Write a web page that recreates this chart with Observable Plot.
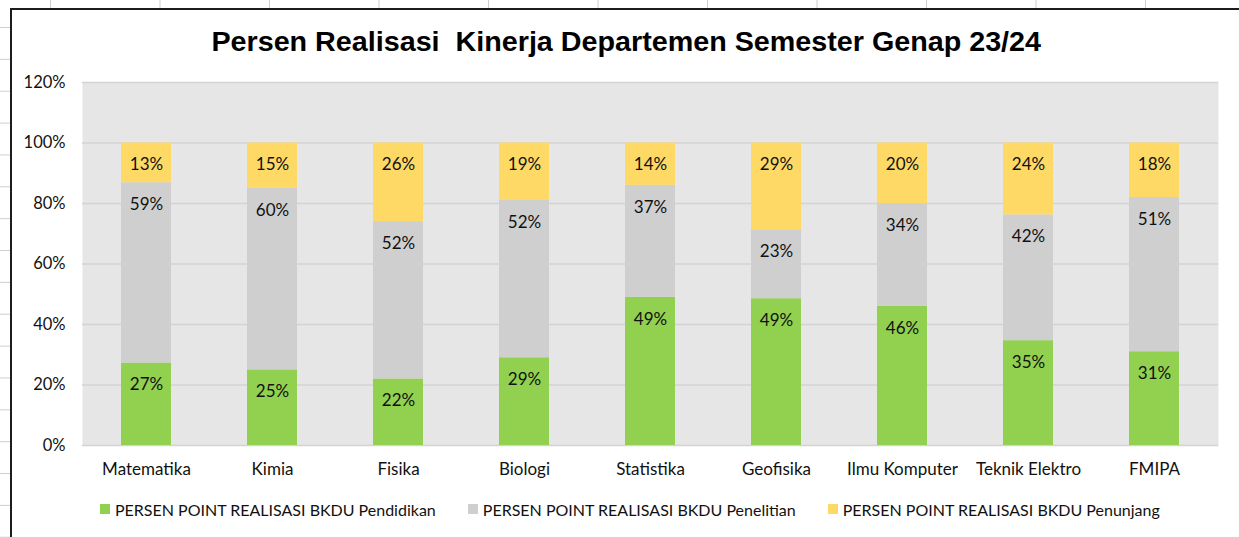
<!DOCTYPE html>
<html>
<head>
<meta charset="utf-8">
<script src="https://cdn.jsdelivr.net/npm/d3@7"></script>
<script src="https://cdn.jsdelivr.net/npm/@observablehq/plot@0.6"></script>
<style>
  html, body { margin: 0; padding: 0; background: #fff; }
  #page { position: relative; width: 1239px; height: 537px; overflow: hidden; font-family: Lato, "Noto Sans", sans-serif; }
  .sheet-top { position: absolute; left: 0; top: 0; width: 1239px; height: 8px;
    background-image: linear-gradient(to right, #cfcfcf 1px, transparent 1px);
    background-size: 109.5px 100%; background-position: 50px 0; }
  .sheet-left { position: absolute; left: 0; top: 8px; width: 10px; height: 529px;
    background-image: linear-gradient(to bottom, #cfcfcf 1px, transparent 1px);
    background-size: 100% 31.87px; background-position: 0 19px; }
  .frame { position: absolute; left: 10px; top: 8px; width: 1300px; height: 600px;
    border-left: 2px solid #1c1c1c; border-top: 2px solid #1c1c1c; pointer-events: none; }
  #chart { position: absolute; left: 0; top: 0; width: 1239px; }
  #title { height: 70px; box-sizing: border-box; padding-top: 27px; padding-left: 13px; text-align: center;
    font-family: "Liberation Sans", Arial, sans-serif; font-weight: bold; font-size: 27px; line-height: 30px; color: #000; white-space: pre; }
  #title span { display: inline-block; transform: scaleX(1.063); }
  #legend { height: 38px; display: flex; align-items: center; padding-left: 100px; box-sizing: border-box;
    font-size: 16px; color: #111; }
  .item { display: flex; align-items: center; margin-right: 32px; }
  .sw { width: 10px; height: 10px; margin-right: 5px; }
  svg { display: block; }
</style>
</head>
<body>
<div id="page">
  <div class="sheet-top"></div>
  <div class="sheet-left"></div>
  <div id="chart">
    <div id="title"><span></span></div>
    <div id="plot"></div>
    <div id="legend"></div>
  </div>
  <div class="frame"></div>
</div>
<script>
const title = "Persen Realisasi  Kinerja Departemen Semester Genap 23/24";
const categories = ["Matematika", "Kimia", "Fisika", "Biologi", "Statistika", "Geofisika", "Ilmu Komputer", "Teknik Elektro", "FMIPA"];
const seriesNames = [
  "PERSEN POINT REALISASI BKDU Pendidikan",
  "PERSEN POINT REALISASI BKDU Penelitian",
  "PERSEN POINT REALISASI BKDU Penunjang"
];
const pendidikan = [27, 25, 22, 29, 49, 49, 46, 35, 31];
const penelitian = [59, 60, 52, 52, 37, 23, 34, 42, 51];
const penunjang  = [13, 15, 26, 19, 14, 29, 20, 24, 18];
const colors = ["#92d050", "#d0cfcf", "#ffd966"];
const yTicks = [0, 0.2, 0.4, 0.6, 0.8, 1.0, 1.2];
const yTickLabels = ["0%", "20%", "40%", "60%", "80%", "100%", "120%"];

const seriesValues = [pendidikan, penelitian, penunjang];
const data = [];
seriesNames.forEach((s, si) => {
  categories.forEach((c, ci) => {
    data.push({category: c, series: s, value: seriesValues[si][ci]});
  });
});

document.querySelector("#title span").textContent = title;

const stackOpts = {x: "category", y: "value", z: "series", order: seriesNames, offset: "normalize"};

const chart = Plot.plot({
  width: 1239,
  height: 420,
  marginTop: 12,
  marginBottom: 45,
  marginLeft: 82,
  marginRight: 21,
  style: {fontFamily: "Lato, 'Noto Sans', sans-serif", background: "transparent", color: "#111"},
  x: {domain: categories, paddingInner: 0.6, paddingOuter: 0.3, label: null},
  y: {domain: [0, 1.2], label: null},
  color: {domain: seriesNames, range: colors},
  marks: [
    Plot.frame({fill: "#e6e6e6", stroke: null}),
    Plot.ruleY(yTicks, {stroke: "#d3d3d3", strokeWidth: 1.5}),
    Plot.barY(data, Plot.stackY({...stackOpts, fill: "series"})),
    Plot.text(data, Plot.stackY2({...stackOpts, text: d => d.value + "%", dy: 22, fontSize: 17, fill: "#111"})),
    Plot.axisY({ticks: yTicks, tickFormat: d => yTickLabels[yTicks.indexOf(d)], tickSize: 0, tickPadding: 17, fontSize: 16.5, label: null}),
    Plot.axisX({tickSize: 0, tickPadding: 17, fontSize: 17, label: null})
  ]
});
document.getElementById("plot").appendChild(chart);

const legend = document.getElementById("legend");
seriesNames.forEach((s, i) => {
  const item = document.createElement("div");
  item.className = "item";
  const sw = document.createElement("div");
  sw.className = "sw";
  sw.style.background = colors[i];
  const label = document.createElement("span");
  label.textContent = s;
  item.appendChild(sw);
  item.appendChild(label);
  legend.appendChild(item);
});
</script>
</body>
</html>
